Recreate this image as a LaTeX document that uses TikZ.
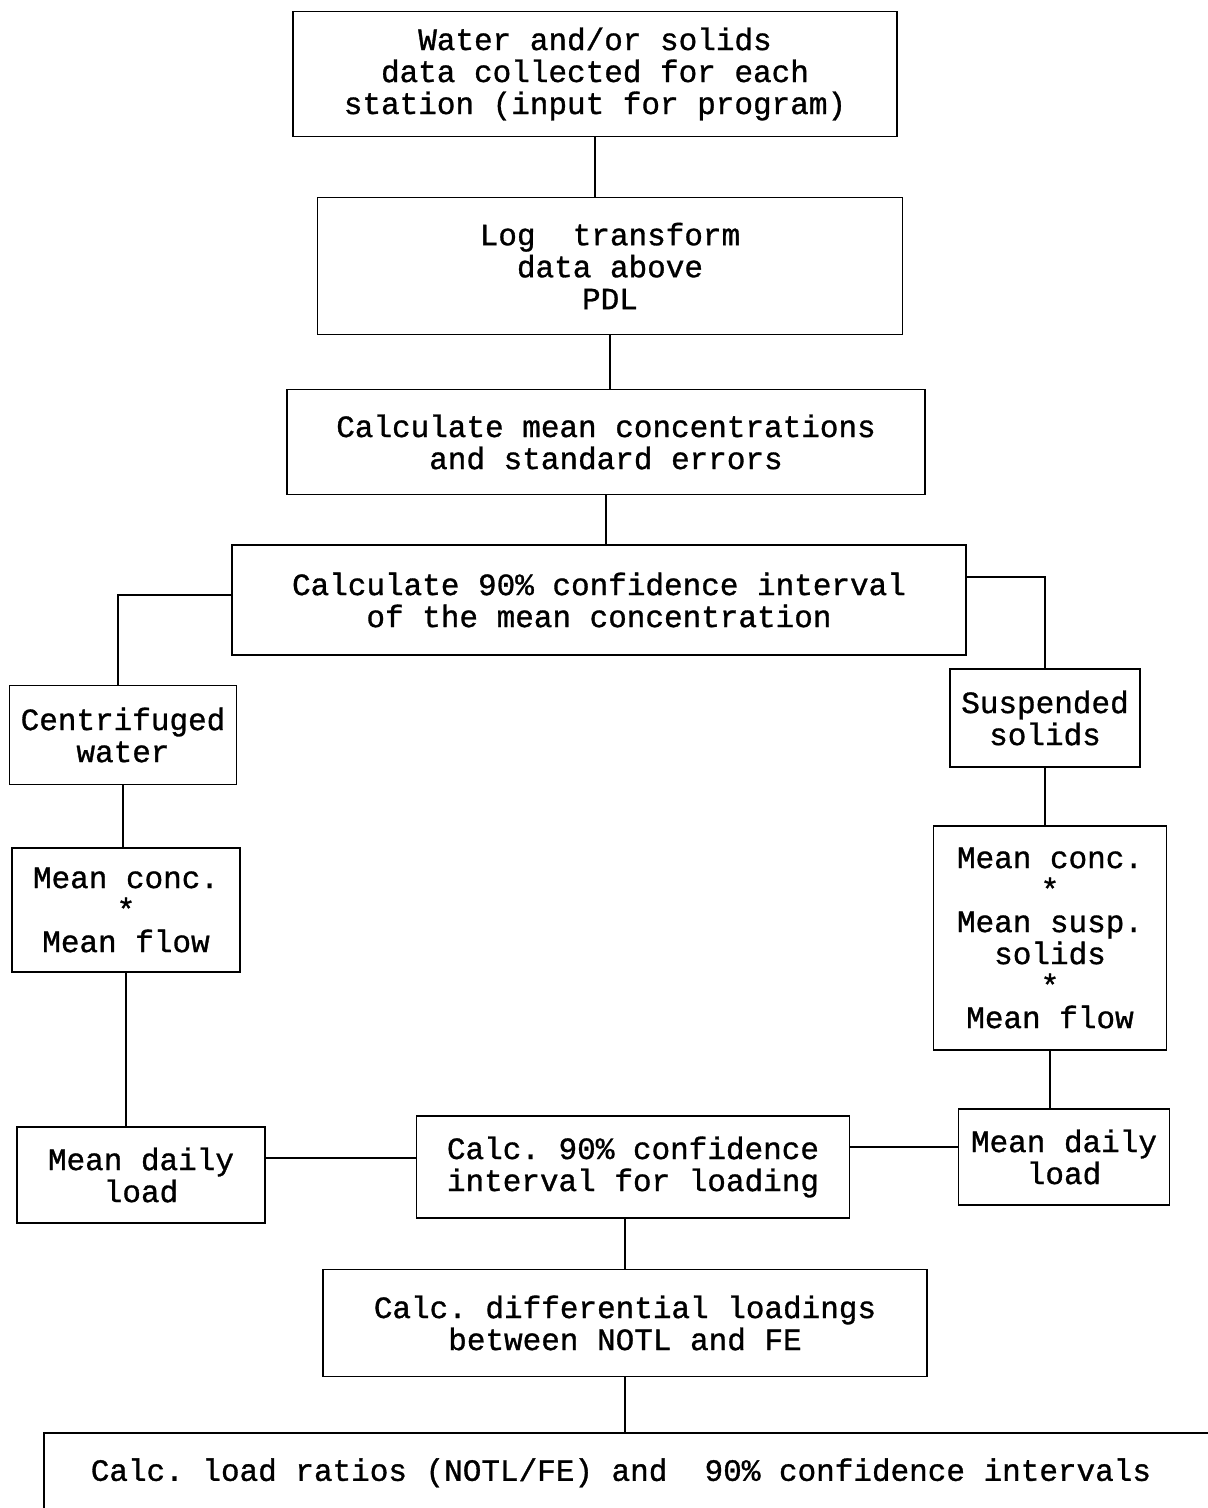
\documentclass[tikz,border=0pt]{standalone}
\usepackage{fontspec}
\newfontfamily\cour[FakeBold=1,WordSpace={1,0,0},PunctuationSpace=WordSpace]{Liberation Mono}
\begin{document}
\frenchspacing
\begin{tikzpicture}[x=1pt,y=-1pt,
  box/.style={draw,line width=1.6pt,fill=white,align=center,inner sep=0pt,
    font=\cour\frenchspacing\fontsize{31}{32}\selectfont},
  conn/.style={line width=1.6pt}]
\useasboundingbox (0,0) rectangle (1208,1508);
\clip (0,0) rectangle (1208,1508);
\node[box,minimum width=604,minimum height=125] (top) at (595,74)
  {Water and/or solids\\data collected for each\\station (input for program)};
\node[box,minimum width=585,minimum height=137] (log) at (610,266)
  {Log\ \ transform\\data above\\PDL};
\node[box,minimum width=638,minimum height=105] (cmean) at (606,442)
  {Calculate mean concentrations\\and standard errors};
\node[box,minimum width=734,minimum height=110] (ci) at (599,600)
  {Calculate 90\% confidence interval\\of the mean concentration};
\node[box,minimum width=227,minimum height=99] (centr) at (123,735)
  {Centrifuged\\water};
\node[box,minimum width=190,minimum height=98] (susp) at (1045,718)
  {Suspended\\solids};
\node[box,minimum width=228,minimum height=124] (lconc) at (126,910)
  {Mean conc.\\*\\Mean flow};
\node[box,minimum width=233,minimum height=224] (rconc) at (1050,938)
  {Mean conc.\\*\\Mean susp.\\solids\\*\\Mean flow};
\node[box,minimum width=248,minimum height=96] (lload) at (141,1175)
  {Mean daily\\load};
\node[box,minimum width=433,minimum height=102] (ciload) at (633,1167)
  {Calc. 90\% confidence\\interval for loading};
\node[box,minimum width=211,minimum height=96] (rload) at (1064,1157)
  {Mean daily\\load};
\node[box,minimum width=604,minimum height=107] (diff) at (625,1323)
  {Calc. differential loadings\\between NOTL and FE};
\node[box,anchor=north west,minimum width=1220,minimum height=80,text width=1150,align=flush left,inner xsep=47pt] (bottom) at (43,1432)
  {Calc. load ratios (NOTL/FE) and\ \ 90\% confidence intervals};
\draw[conn] (top.south) -- (top.south |- log.north);
\draw[conn] (log.south) -- (log.south |- cmean.north);
\draw[conn] (cmean.south) -- (cmean.south |- ci.north);
\draw[conn] ([yshift=5pt]ci.west) -| ([xshift=-5pt]centr.north);
\draw[conn] ([yshift=23pt]ci.east) -| (susp.north);
\draw[conn] (centr.south) -- (centr.south |- lconc.north);
\draw[conn] (susp.south) -- (susp.south |- rconc.north);
\draw[conn] (lconc.south) -- (lconc.south |- lload.north);
\draw[conn] (rconc.south) -- (rconc.south |- rload.north);
\draw[conn] ([yshift=9pt]ciload.west) -- ([yshift=9pt]ciload.west -| lload.east);
\draw[conn] ([yshift=20pt]ciload.east) -- ([yshift=20pt]ciload.east -| rload.west);
\draw[conn] (diff.north) -- (diff.north |- ciload.south);
\draw[conn] (diff.south) -- (diff.south |- bottom.north);
\end{tikzpicture}
\end{document}
